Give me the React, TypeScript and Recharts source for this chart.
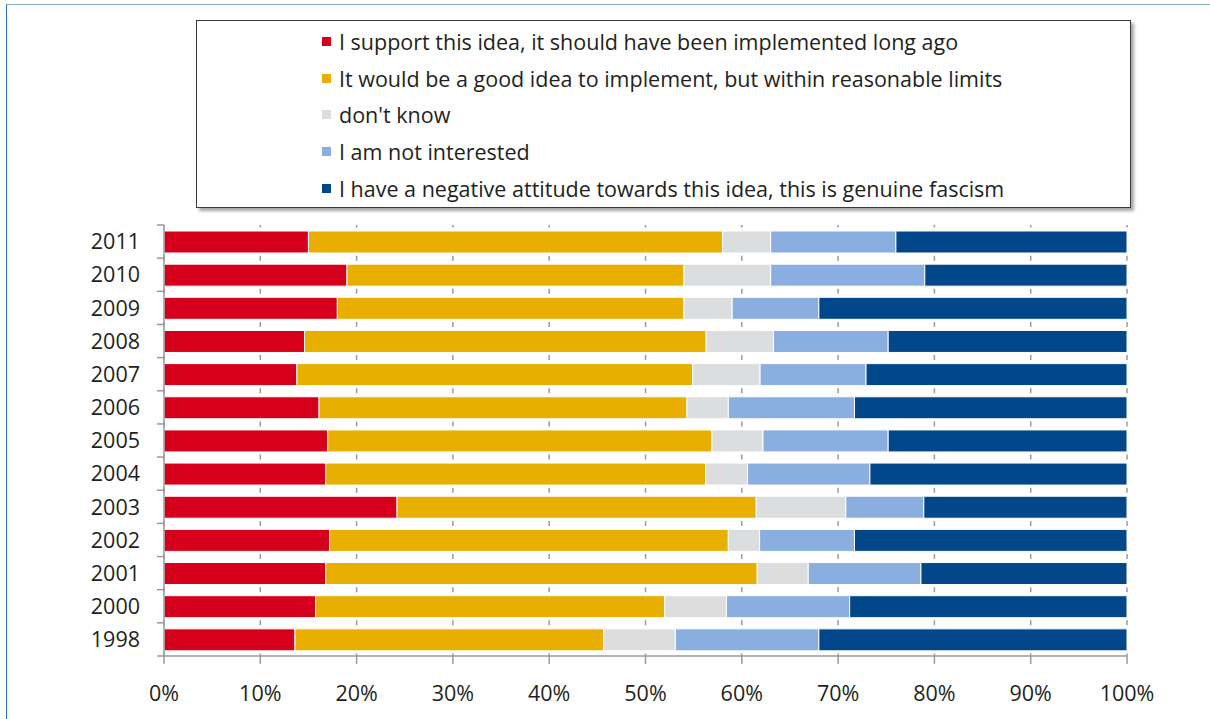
import React from 'react';
import { BarChart, Bar, XAxis, YAxis, CartesianGrid, Legend } from 'recharts';

const years = ['2011', '2010', '2009', '2008', '2007', '2006', '2005', '2004', '2003', '2002', '2001', '2000', '1998'];
const support = [15, 19, 18, 14.6, 13.8, 16.1, 17.0, 16.8, 24.2, 17.2, 16.8, 15.75, 13.6];
const reasonable = [43, 35, 36, 41.7, 41.1, 38.2, 39.9, 39.45, 37.3, 41.4, 44.8, 36.25, 32.05];
const dontKnow = [5, 9, 5, 7.0, 7.0, 4.3, 5.3, 4.35, 9.3, 3.25, 5.3, 6.4, 7.45];
const notInterested = [13, 16, 9, 11.9, 11.0, 13.1, 13.0, 12.7, 8.1, 9.85, 11.7, 12.8, 14.9];
const negative = [24, 21, 32, 24.8, 27.1, 28.3, 24.8, 26.7, 21.1, 28.3, 21.4, 28.8, 32];
const xTicks = [0, 10, 20, 30, 40, 50, 60, 70, 80, 90, 100];

const seriesKeys = ['s1', 's2', 's3', 's4', 's5'];
const seriesNames = [
  'I support this idea, it should have been implemented long ago',
  'It would be a good idea to implement, but within reasonable limits',
  "don't know",
  'I am not interested',
  'I have a negative attitude towards this idea, this is genuine fascism',
];
const colors = ['#d6001c', '#e8ae00', '#dcdddf', '#8aaee0', '#02478a'];

const data = years.map((y, i) => ({
  year: y,
  s1: support[i],
  s2: reasonable[i],
  s3: dontKnow[i],
  s4: notInterested[i],
  s5: negative[i],
}));

const FONT = '"Open Sans", "Noto Sans", sans-serif';
const TEXT = '#231f20';
const AXIS = '#9a9a9a';
const FS = 21.5;

const YTick = (props: any) => {
  const { x, y, payload, index, visibleTicksCount } = props;
  const off = payload.offset || 0;
  const ax = x;
  return (
    <g>
      <line x1={ax - 7} x2={ax} y1={y - off} y2={y - off} stroke={AXIS} strokeWidth={1.5} />
      {index === visibleTicksCount - 1 ? (
        <line x1={ax - 7} x2={ax} y1={y + off} y2={y + off} stroke={AXIS} strokeWidth={1.5} />
      ) : null}
      <text x={ax - 24} y={y} dy="0.36em" textAnchor="end" fontSize={FS} fill={TEXT} fontFamily={FONT}>
        {payload.value}
      </text>
    </g>
  );
};

const LegendBox = (props: any) => {
  const items = [...(props.payload || [])].sort(
    (a: any, b: any) => seriesKeys.indexOf(a.dataKey) - seriesKeys.indexOf(b.dataKey)
  );
  return (
    <div style={{ paddingLeft: 125, paddingTop: 2, fontFamily: FONT }}>
      {items.map((p: any) => (
        <div key={p.value} style={{ height: 36.75, display: 'flex', alignItems: 'center' }}>
          <span style={{ display: 'inline-block', width: 9, height: 9, background: p.color, marginRight: 8 }} />
          <span style={{ fontSize: FS, color: TEXT, whiteSpace: 'nowrap' }}>{p.value}</span>
        </div>
      ))}
    </div>
  );
};

export default function App() {
  return (
    <div style={{ position: 'fixed', left: 0, top: 0, width: 1210, height: 719, background: '#fff', overflow: 'hidden' }}>
      <div
        style={{
          position: 'absolute',
          left: 6,
          top: 4,
          width: 1300,
          height: 800,
          borderLeft: '1.5px solid #2f6eb0',
          borderTop: '1.5px solid #8ca9c9',
        }}
      />
      <div style={{ position: 'absolute', left: 0, top: 0 }}>
        <BarChart
          width={1210}
          height={719}
          data={data}
          layout="vertical"
          margin={{ top: 225, right: 83, left: 0, bottom: 0 }}
          barSize={22}
          style={{ fontFamily: FONT }}
        >
          <CartesianGrid
            horizontal={false}
            vertical={true}
            stroke={AXIS}
            strokeWidth={1.5}
            strokeDasharray="2.5 28.154 2.5 0"
          />
          <XAxis
            type="number"
            domain={[0, 100]}
            ticks={xTicks}
            tickFormatter={(v: number) => `${v}%`}
            height={63}
            stroke={AXIS}
            strokeWidth={1.5}
            tickSize={8}
            tickMargin={22}
            tick={{ fontSize: FS, fill: TEXT, fontFamily: FONT }}
            interval={0}
            allowDataOverflow
          />
          <YAxis
            type="category"
            dataKey="year"
            width={164}
            stroke={AXIS}
            strokeWidth={1.5}
            tickLine={false}
            tickSize={0}
            tickMargin={0}
            tick={<YTick />}
            interval={0}
          />
          <Legend
            layout="vertical"
            align="center"
            verticalAlign="middle"
            content={<LegendBox />}
            wrapperStyle={{
              left: 196,
              top: 20,
              width: 935,
              height: 188,
              border: '1px solid #3a3a3a',
              boxShadow: '3px 3px 3px rgba(0,0,0,0.35)',
              background: '#fff',
              boxSizing: 'border-box',
            }}
          />
          {seriesKeys.map((k, i) => (
            <Bar
              key={k}
              dataKey={k}
              name={seriesNames[i]}
              stackId="a"
              fill={colors[i]}
              stroke="#ffffff"
              strokeWidth={1}
              isAnimationActive={false}
            />
          ))}
        </BarChart>
      </div>
    </div>
  );
}
